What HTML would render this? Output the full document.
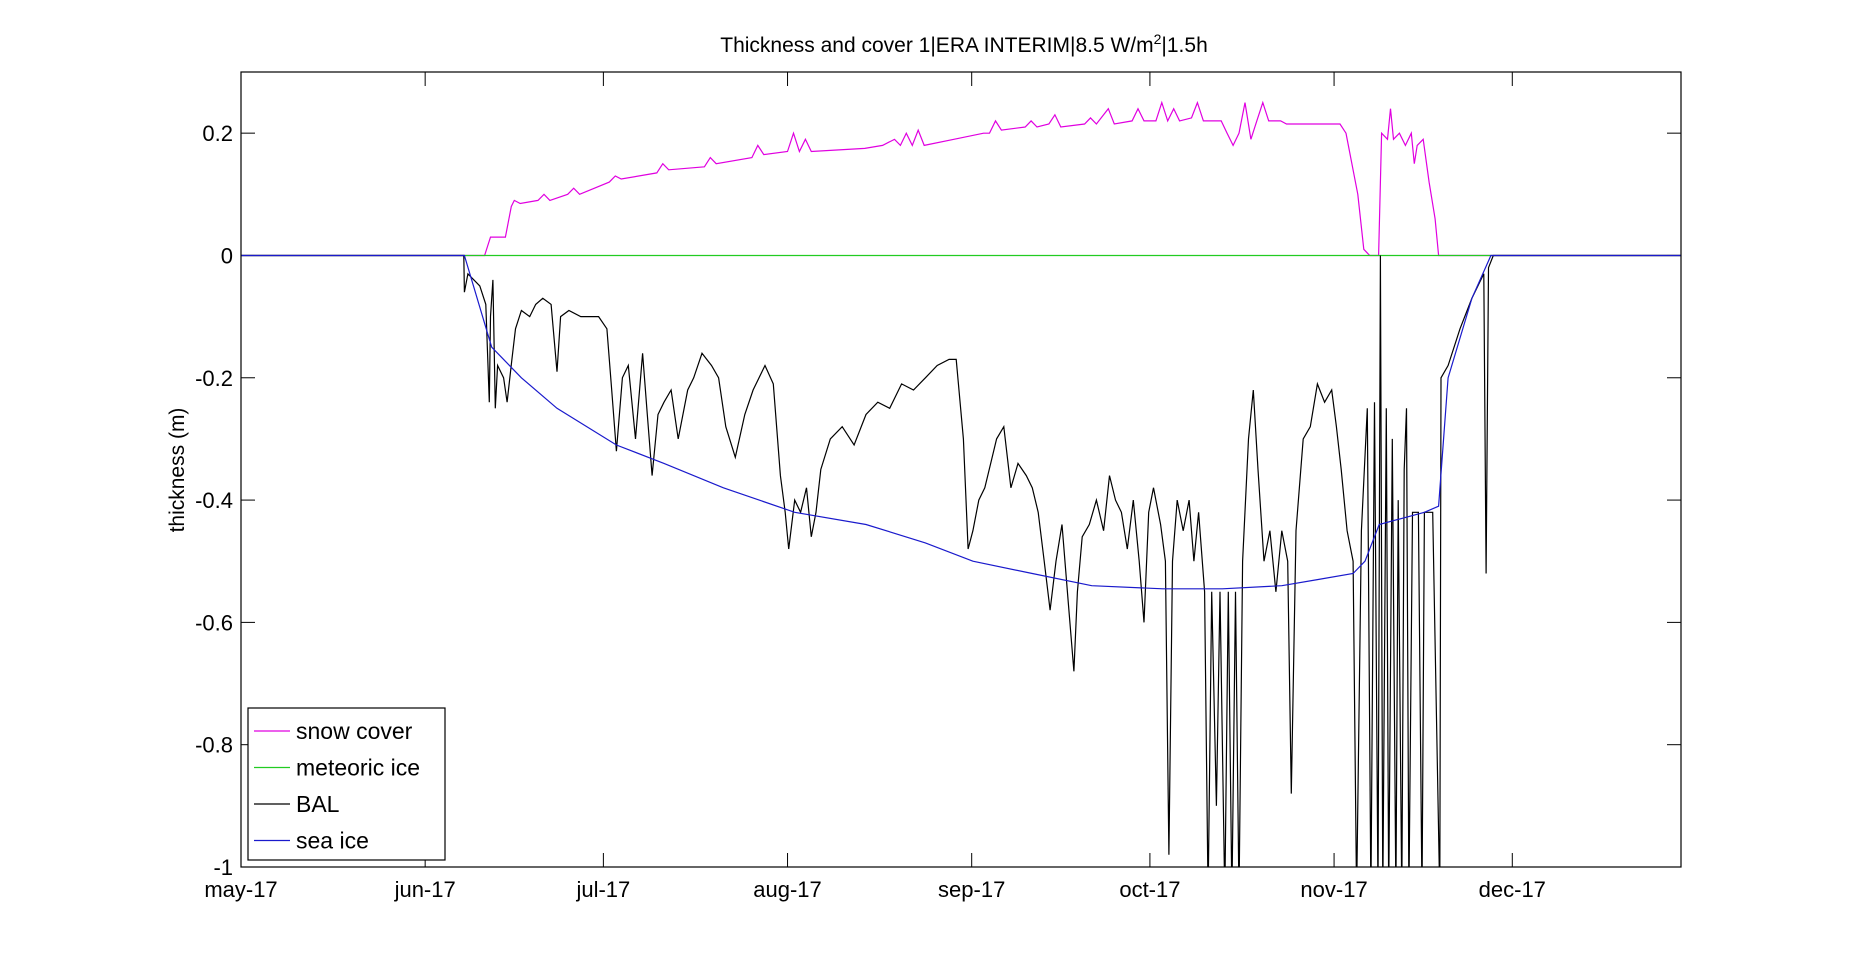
<!DOCTYPE html>
<html><head><meta charset="utf-8"><style>
body{margin:0;background:#fff;}
svg text{font-family:"Liberation Sans",sans-serif;fill:#000;}
</style></head><body>
<svg id="chart" width="1857" height="970" xmlns="http://www.w3.org/2000/svg">
<text x="964" y="52" font-size="21" text-anchor="middle">Thickness and cover 1|ERA INTERIM|8.5 W/m<tspan font-size="14" dy="-8">2</tspan><tspan dy="8">|1.5h</tspan></text>
<text transform="translate(184,470) rotate(-90)" font-size="21" text-anchor="middle">thickness (m)</text>
<defs><clipPath id="clip"><rect x="241" y="72" width="1440" height="795"/></clipPath></defs>
<g id="axes"></g>
<g id="series" clip-path="url(#clip)"></g>
<rect x="241" y="72" width="1440" height="795" fill="none" stroke="#000" stroke-width="1.2"/>
<g id="legend"></g>
</svg>
<script>
const xTickDays=[0,31,61,92,123,153,184,214];
const xTickLabels=["may-17","jun-17","jul-17","aug-17","sep-17","oct-17","nov-17","dec-17"];
const yTicks=[-1,-0.8,-0.6,-0.4,-0.2,0,0.2];
const yTickLabels=["-1","-0.8","-0.6","-0.4","-0.2","0","0.2"];
const snowDay=[0,41,42,44.5,45.5,46,47,50,51,52,55,56,57,62,63,64,70,71,72,78,79,80,86,87,88,92,93,94,95,96,105,108,110,111,112,113,114,115,120,125,126,127,128,132,133,134,136,137,138,142,143,144,146,147,150,151,152,154,155,156,157,158,160,161,162,165,166,167,168,169,170,171,172,173,175,176,185,186,188,189,190,191.5,192,193,193.5,194,195,196,197,197.5,198,199,200,201,201.6,242.4];
const snowVal=[0,0,0.03,0.03,0.08,0.09,0.085,0.09,0.1,0.09,0.1,0.11,0.1,0.12,0.13,0.125,0.135,0.15,0.14,0.145,0.16,0.15,0.16,0.18,0.165,0.17,0.2,0.17,0.19,0.17,0.175,0.18,0.19,0.18,0.2,0.18,0.205,0.18,0.19,0.2,0.2,0.22,0.205,0.21,0.22,0.21,0.215,0.23,0.21,0.215,0.225,0.215,0.24,0.215,0.22,0.24,0.22,0.22,0.25,0.22,0.24,0.22,0.225,0.25,0.22,0.22,0.2,0.18,0.2,0.25,0.19,0.22,0.25,0.22,0.22,0.215,0.215,0.2,0.1,0.01,0,0,0.2,0.19,0.24,0.19,0.2,0.18,0.2,0.15,0.18,0.19,0.12,0.06,0,0];
const metDay=[0,242.4];
const metVal=[0,0];
const balDay=[0,37.5,37.6,38.2,39.2,40.2,41.2,41.8,42,42.4,42.8,43.2,44.2,44.8,45.6,46.2,47.2,48.6,49.6,50.8,52.2,53.2,53.8,55.2,57.2,60.2,61.6,62.4,63.2,64.2,65.2,66.4,67.6,68.4,69.2,70.2,71.2,72.4,73.6,75.2,76.2,77.6,79.2,80.4,81.6,83.2,84.8,86.2,88.2,89.6,90.8,91.6,92.2,93.2,94.2,95.2,96,96.8,97.6,99.2,101.2,103.2,105.2,107.2,109.2,111.2,113.2,115.2,117.2,119.2,120.4,121.6,122.4,123.2,124.2,125.2,126.2,127.2,128.4,129.6,130.8,132.2,133.2,134.2,135.2,136.2,137.2,138.2,139.2,140.2,140.8,141.6,142.8,144,145.2,146.2,147.2,148.2,149.2,150.2,151.2,152,152.8,153.6,154.8,155.6,156.2,156.8,157.6,158.6,159.6,160.4,161.2,162.2,162.8,163.4,164.2,164.8,165.6,166.2,166.8,167.4,168,168.6,169.6,170.4,171.2,172.2,173.2,174.2,175.2,176.2,176.8,177.6,178.8,180,181.2,182.4,183.6,184.4,185.2,186.2,187.2,187.8,188.6,189.6,190.2,190.8,191.4,191.8,192.2,192.8,193.2,193.8,194.4,194.8,195.4,195.8,196.2,196.6,197.2,198.2,198.8,199.2,200.6,201.8,202,203.2,205.2,207.2,209.2,209.6,210,210.8,242.4];
const balVal=[0,0,-0.06,-0.03,-0.04,-0.05,-0.08,-0.24,-0.1,-0.04,-0.25,-0.18,-0.2,-0.24,-0.17,-0.12,-0.09,-0.1,-0.08,-0.07,-0.08,-0.19,-0.1,-0.09,-0.1,-0.1,-0.12,-0.22,-0.32,-0.2,-0.18,-0.3,-0.16,-0.26,-0.36,-0.26,-0.24,-0.22,-0.3,-0.22,-0.2,-0.16,-0.18,-0.2,-0.28,-0.33,-0.26,-0.22,-0.18,-0.21,-0.36,-0.42,-0.48,-0.4,-0.42,-0.38,-0.46,-0.42,-0.35,-0.3,-0.28,-0.31,-0.26,-0.24,-0.25,-0.21,-0.22,-0.2,-0.18,-0.17,-0.17,-0.3,-0.48,-0.45,-0.4,-0.38,-0.34,-0.3,-0.28,-0.38,-0.34,-0.36,-0.38,-0.42,-0.5,-0.58,-0.5,-0.44,-0.56,-0.68,-0.55,-0.46,-0.44,-0.4,-0.45,-0.36,-0.4,-0.42,-0.48,-0.4,-0.5,-0.6,-0.42,-0.38,-0.44,-0.5,-0.98,-0.5,-0.4,-0.45,-0.4,-0.5,-0.42,-0.55,-1.05,-0.55,-0.9,-0.55,-1.05,-0.55,-1.05,-0.55,-1.05,-0.5,-0.3,-0.22,-0.35,-0.5,-0.45,-0.55,-0.45,-0.5,-0.88,-0.45,-0.3,-0.28,-0.21,-0.24,-0.22,-0.28,-0.35,-0.45,-0.5,-1.05,-0.45,-0.25,-1.05,-0.24,-1.05,0,-1.05,-0.25,-1.05,-0.3,-1.05,-0.4,-1.05,-0.35,-0.25,-1.05,-0.42,-0.42,-1.05,-0.42,-0.42,-1.05,-0.2,-0.18,-0.12,-0.07,-0.03,-0.52,-0.02,0,0];
const seaDay=[0,37.6,42.2,47.2,53.2,63.2,71.2,81.2,93.2,105.2,115.2,123.2,133.2,143.2,155.2,165.2,175.2,181.2,187.2,189.2,191.6,199.2,201.6,203.2,207.2,210.4,242.4];
const seaVal=[0,0,-0.15,-0.2,-0.25,-0.31,-0.34,-0.38,-0.42,-0.44,-0.47,-0.5,-0.52,-0.54,-0.545,-0.545,-0.54,-0.53,-0.52,-0.5,-0.44,-0.42,-0.41,-0.2,-0.07,0,0];

const NS="http://www.w3.org/2000/svg";
const X0=241,X1=1681,Y0=72,Y1=867,DMAX=242.4,VMIN=-1,VMAX=0.3;
const xs=d=>X0+(d/DMAX)*(X1-X0);
const ys=v=>Y1-(v-VMIN)/(VMAX-VMIN)*(Y1-Y0);
const axes=document.getElementById('axes'),series=document.getElementById('series'),legend=document.getElementById('legend');
function mk(tag,attrs,parent){const e=document.createElementNS(NS,tag);for(const k in attrs)e.setAttribute(k,attrs[k]);parent.appendChild(e);return e;}
xTickDays.forEach((d,i)=>{
  const x=xs(d);
  const t1=mk('line',{x1:x,x2:x,y1:Y1,y2:Y1-14,stroke:'#000'},axes);
  
  
  const t2=mk('line',{x1:x,x2:x,y1:Y0,y2:Y0+14,stroke:'#000'},axes);
  
  
  const tx=mk('text',{x:x,y:Y1+30,'font-size':22,'text-anchor':'middle'},axes);
  tx.textContent=xTickLabels[i];
  
  
});
yTicks.forEach((v,i)=>{
  const y=ys(v);
  const t1=mk('line',{x1:X0,x2:X0+14,y1:y,y2:y,stroke:'#000'},axes);
  
  
  const t2=mk('line',{x1:X1,x2:X1-14,y1:y,y2:y,stroke:'#000'},axes);
  
  
  const tx=mk('text',{x:X0-8,y:y+8,'font-size':22,'text-anchor':'end'},axes);
  tx.textContent=yTickLabels[i];
  
  
});
function line(days,vals,color,name){
  const p=days.map((d,i)=>xs(d).toFixed(1)+','+ys(vals[i]).toFixed(1)).join(' ');
  const e=mk('polyline',{points:p,fill:'none',stroke:color,'stroke-width':1.2},series);
  
  
}
line(snowDay,snowVal,'#e000e0','snow-cover-line');
line(metDay,metVal,'#22cc22','meteoric-ice-line');
line(balDay,balVal,'#000','bal-line');
line(seaDay,seaVal,'#1a1acc','sea-ice-line');
const lb=mk('rect',{x:248,y:708,width:197,height:152,fill:'#fff',stroke:'#000','stroke-width':1.2},legend);


const legNames=["snow cover","meteoric ice","BAL","sea ice"];
const legColors=['#e000e0','#22cc22','#000','#1a1acc'];
legNames.forEach((n,i)=>{
  const y=731+i*36.5;
  const g=mk('g',{},legend);
  
  
  mk('line',{x1:254,x2:290,y1:y,y2:y,stroke:legColors[i],'stroke-width':1.2},g);
  const t=mk('text',{x:296,y:y+8,'font-size':23},g);
  t.textContent=n;
});
</script>
</body></html>
